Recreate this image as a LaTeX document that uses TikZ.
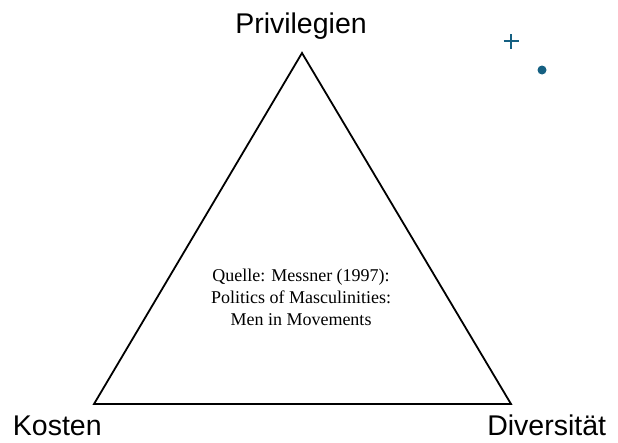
\documentclass[tikz,border=0pt]{standalone}
\usepackage{fontspec}
\setmainfont{Liberation Serif}
\setsansfont{Liberation Sans}
\usetikzlibrary{positioning}
\definecolor{markblue}{HTML}{156082}

\begin{document}
\begin{tikzpicture}
			[x=1pt, y=-1pt, line width=1.8pt,
			 corner/.style = {font=\sffamily\fontsize{28.5}{32}\selectfont, anchor=base, inner sep=0pt},
			 quelle/.style = {font=\fontsize{18}{22}\selectfont, align=center, inner sep=0pt}]
			\useasboundingbox (0,0) rectangle (618,442);
			\coordinate (top) at (302,53);
			\coordinate (left) at (94,404);
			\coordinate (right) at (511,404);
			\draw[line join=miter] (top) -- (left) -- (right) -- cycle;
			\node[corner] (priv) at (301,33) {Privilegien};
			\node[corner, anchor=base west] (kosten) at (12,435) {Kosten};
			\node[corner, anchor=base east] (div) at (607,435) {Diversität};
			\node[quelle, anchor=base] (src) at (301,325) {Quelle: Messner (1997):\\Politics of Masculinities:\\Men in Movements};
			\coordinate (plus) at (511,41);
			\coordinate (dot) at (542,70);
			\draw[markblue, line width=1.3pt] ([xshift=-7.5pt]plus) -- ([xshift=7.5pt]plus) ([yshift=-7.5pt]plus) -- ([yshift=7.5pt]plus);
			\fill[markblue] (dot) circle (4.5);
\end{tikzpicture}
\end{document}
